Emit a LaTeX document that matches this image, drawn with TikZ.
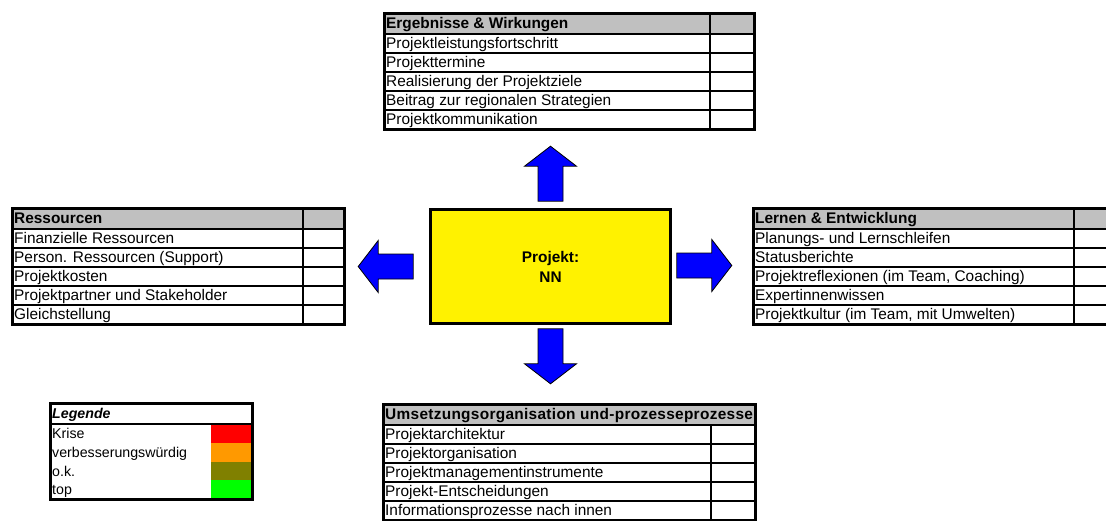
\documentclass[tikz,border=0pt]{standalone}
\usepackage{fontspec}
\setmainfont{Liberation Sans}
\usetikzlibrary{calc}
\definecolor{kopfgrau}{HTML}{C0C0C0}
\definecolor{krise}{HTML}{FF0000}
\definecolor{verbessern}{HTML}{FF9900}
\definecolor{okfarbe}{HTML}{808000}
\definecolor{topfarbe}{HTML}{00FF00}

% #1 name, #2 links, #3 spalte, #4 rechts, #5 oben, #6 spaltenbeginn, #7 kopf, #8 zeilen
\newcommand{\tabelle}[8]{%
	\fill[kopfgrau] (#2,#5) rectangle (#4,#5+21);
	\node[kopftext] (#1-k) at (#2+2,#5+15.5) {#7};
	\foreach \z [count=\i] in {#8}
	{
		\node[zeile] (#1-\i) at (#2+2,#5+16.5+19*\i) {\z};
		\draw[linie] (#2,#5+21+19*\i) -- (#4,#5+21+19*\i);
	};
	\draw[linie] (#2,#5+21) -- (#4,#5+21);
	\draw[spalte] (#3,#5+#6) -- (#3,#5+116);
	\draw[rahmen] (#2,#5) rectangle (#4,#5+116);
}

\begin{document}
\begin{tikzpicture}[x=1pt,y=-1pt,
		zeile/.style={anchor=base west, inner sep=0pt, font=\fontsize{15.4}{18}\selectfont},
		kopftext/.style={zeile, font=\fontsize{15.4}{18}\selectfont\bfseries},
		legtext/.style={anchor=base west, inner sep=0pt, font=\fontsize{14.2}{16}\selectfont},
		linie/.style={line width=1.6pt},
		spalte/.style={line width=2.4pt},
		rahmen/.style={line width=3pt},
		pfeil/.style={fill=blue, draw=black, line width=0.8pt, line join=miter},
		projekt/.style={draw, fill=yellow, line width=2.6pt, minimum width=240pt, minimum height=114pt,
			align=center, font=\fontsize{15.4}{20}\selectfont\bfseries},
		pics/blockpfeil/.style={code={
				\filldraw[pfeil] (0,-12.5) -- (35,-12.5) -- (35,-26) -- (55,0) -- (35,26) -- (35,12.5) -- (0,12.5) -- cycle;
		}},
	]
	\clip (0,0) rectangle (1106,520);
	\fill[white] (0,0) rectangle (1106,520);

	\node[projekt] (proj) at (550.5,266.5) {Projekt:\\NN};

	\pic[rotate=90] at ($(proj.north)+(0,-7)$) {blockpfeil};
	\pic[rotate=-90] at ($(proj.south)+(0,4)$) {blockpfeil};
	\pic[rotate=180] at ($(proj.west)+(-16,0)$) {blockpfeil};
	\pic at ($(proj.east)+(5,-1)$) {blockpfeil};

	\tabelle{erg}{384}{710}{754}{13}{0}{Ergebnisse \& Wirkungen}
		{Projektleistungsfortschritt, Projekttermine, Realisierung der Projektziele,
		Beitrag zur regionalen Strategien, Projektkommunikation}
	\tabelle{res}{12}{303}{344}{208}{0}{Ressourcen}
		{Finanzielle Ressourcen, Person. Ressourcen (Support), Projektkosten,
		Projektpartner und Stakeholder, Gleichstellung}
	\tabelle{ler}{753}{1074}{1120}{208}{0}{Lernen \& Entwicklung}
		{Planungs- und Lernschleifen, Statusberichte, {Projektreflexionen (im Team, Coaching)},
		Expertinnenwissen, {Projektkultur (im Team, mit Umwelten)}}
	\tabelle{ums}{383}{711}{755}{404}{21}{\addfontfeature{LetterSpace=2}Umsetzungsorganisation und-prozesseprozesse}
		{Projektarchitektur, Projektorganisation, Projektmanagementinstrumente,
		Projekt-Entscheidungen, Informationsprozesse nach innen}

	% Legende
	\node[legtext, font=\fontsize{14.2}{16}\selectfont\bfseries\itshape] (leg-k) at (52,418) {Legende};
	\foreach \t/\f [count=\i] in {Krise/krise, verbesserungswürdig/verbessern, o.k./okfarbe, top/topfarbe}
	{
		\fill[\f] (211,405.25+18.75*\i) rectangle (252,424+18.75*\i);
		\node[legtext] (leg-\i) at (52,419.75+18.75*\i) {\t};
	};
	\draw[linie] (50,424) -- (252,424);
	\draw[rahmen] (50,403) rectangle (252,499);
\end{tikzpicture}
\end{document}
